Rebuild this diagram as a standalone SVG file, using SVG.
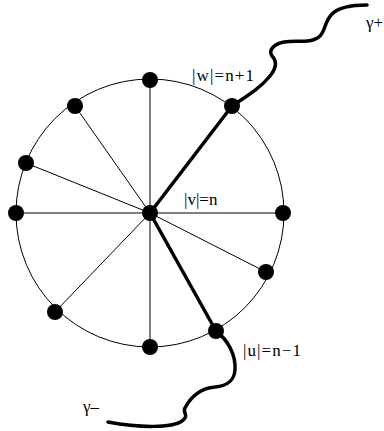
<svg xmlns="http://www.w3.org/2000/svg" width="384" height="431" viewBox="0 0 384 431">
<style>
.thin{stroke:#000;stroke-width:1;fill:none}
.thick{stroke:#000;stroke-width:3.5;fill:none;stroke-linecap:round}
.node{fill:#000}
.lbl{font-family:"Liberation Serif","Times New Roman",serif;font-size:17px;fill:#000}
</style>
<rect width="384" height="431" fill="#fff"/>
<g id="connectors">
<circle class="thin" cx="150" cy="213" r="134"/>
<line class="thin" x1="16" y1="213" x2="283" y2="213"/>
<line class="thin" x1="150" y1="213" x2="150" y2="80"/>
<line class="thin" x1="150" y1="213" x2="75" y2="106"/>
<line class="thin" x1="150" y1="213" x2="26" y2="163"/>
<line class="thin" x1="150" y1="213" x2="55" y2="312"/>
<line class="thin" x1="150" y1="213" x2="150" y2="347"/>
<line class="thin" x1="150" y1="213" x2="266" y2="272"/>
<line class="thick" x1="150" y1="213" x2="232" y2="106"/>
<line class="thick" x1="150" y1="213" x2="216" y2="331"/>
<path id="gamma-plus" class="thick" d="M232,106 C252,93 262,86 270,76 C278,66 276,60 272,56 C268,50 274,44 284,42 C296,40 312,44 320,36 C326,30 324,22 332,14 C340,6 355,5 367,5"/>
<path id="gamma-minus" class="thick" d="M216,331 C228,340 236,355 235,370 C234,382 226,386 215,387 C200,388 190,398 185,408 C182,413 190,415 182,421 C172,428 140,428 108,422"/>
</g>
<g id="v"><circle class="node" cx="150" cy="213" r="8"/></g>
<g id="n-top"><circle class="node" cx="150" cy="80" r="8"/></g>
<g id="w"><circle class="node" cx="232" cy="106" r="8"/></g>
<g id="n-tl"><circle class="node" cx="75" cy="106" r="8"/></g>
<g id="n-l1"><circle class="node" cx="26" cy="163" r="8"/></g>
<g id="n-left"><circle class="node" cx="16" cy="213" r="8"/></g>
<g id="n-right"><circle class="node" cx="283" cy="213" r="8"/></g>
<g id="n-r1"><circle class="node" cx="266" cy="272" r="8"/></g>
<g id="u"><circle class="node" cx="216" cy="331" r="8"/></g>
<g id="n-bottom"><circle class="node" cx="150" cy="347" r="8"/></g>
<g id="n-bl"><circle class="node" cx="55" cy="312" r="8"/></g>
<g id="labels">
<text class="lbl" x="192" y="81" textLength="62" lengthAdjust="spacing">|w|=n+1</text>
<text class="lbl" x="184" y="205">|v|=n</text>
<text class="lbl" x="243" y="356" textLength="58" lengthAdjust="spacing">|u|=n−1</text>
<text class="lbl" x="83" y="412">γ–</text>
<text class="lbl" x="366" y="28">γ+</text>
</g>
</svg>
